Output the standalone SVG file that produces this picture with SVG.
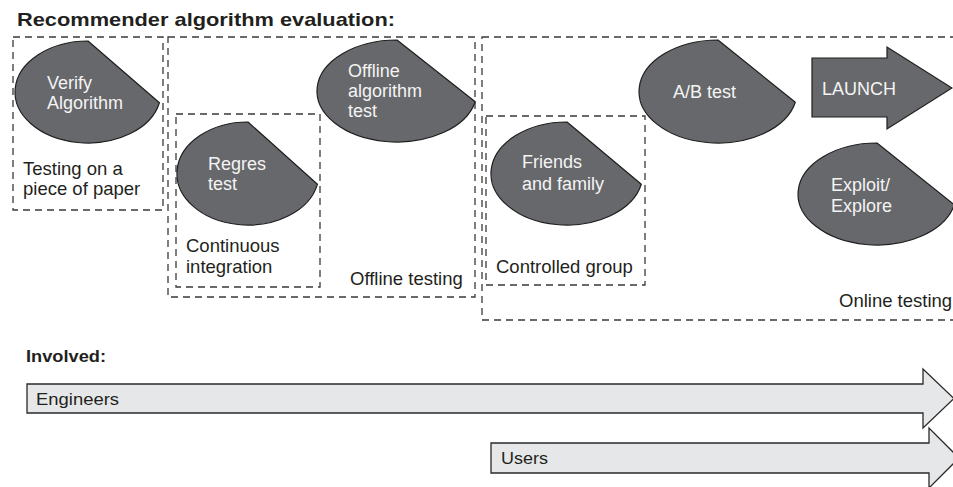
<svg xmlns="http://www.w3.org/2000/svg" width="953" height="487" viewBox="0 0 953 487">
<style>
text{font-family:"Liberation Sans",Arial,sans-serif;fill:#231f20}
.t{font-size:18.5px}
.w{font-size:18px;fill:#f4f4f4}
.b{font-weight:bold}
.box{fill:none;stroke:#3a3a3a;stroke-width:1.3;stroke-dasharray:7 5}
.blob{fill:#67686b;stroke:#1e1e1e;stroke-width:1.2}
.bar{fill:#e6e7e8;stroke:#2a2a2a;stroke-width:1.3}
</style>
<rect width="953" height="487" fill="#fff"/>
<text class="b" x="17" y="26" font-size="19" textLength="378" lengthAdjust="spacingAndGlyphs">Recommender algorithm evaluation:</text>

<g id="groups">
<g id="paper-box"><rect class="box" x="13" y="37" width="150" height="173"/>
<text class="t" x="23" y="175">Testing on a</text><text class="t" x="23" y="195">piece of paper</text></g>
<g id="offline-box"><rect class="box" x="168" y="37" width="307" height="260"/>
<text class="t" x="350" y="285">Offline testing</text></g>
<g id="ci-box"><rect class="box" x="176" y="114" width="144" height="173"/>
<text class="t" x="186" y="252">Continuous</text><text class="t" x="186" y="273">integration</text></g>
<g id="online-box"><rect class="box" x="482" y="37" width="480" height="283"/>
<text class="t" x="839" y="307">Online testing</text></g>
<g id="controlled-box"><rect class="box" x="486" y="116" width="159" height="169"/>
<text class="t" x="496" y="273">Controlled group</text></g>
</g>

<g id="connectors"></g>

<g id="verify"><path class="blob" d="M88,41 L159.4,102.7 A73 51 0 1 1 88,41 Z"/>
<text class="w" x="47" y="89">Verify</text><text class="w" x="47" y="109">Algorithm</text></g>
<g id="regres"><path class="blob" d="M248,122 L317.4,184.3 A71 51.5 0 1 1 248,122 Z"/>
<text class="w" x="208" y="170">Regres</text><text class="w" x="208" y="190">test</text></g>
<g id="offline-test"><path class="blob" d="M397,40 L475.2,101.7 A80 51 0 1 1 397,40 Z"/>
<text class="w" x="348" y="77">Offline</text><text class="w" x="348" y="97">algorithm</text><text class="w" x="348" y="117">test</text></g>
<g id="ab-test"><path class="blob" d="M718,40 L795.3,102.3 A79 51.5 0 1 1 718,40 Z"/>
<text class="w" x="673" y="98">A/B test</text></g>
<g id="friends"><path class="blob" d="M567,122 L641.3,184.3 A76 51.5 0 1 1 567,122 Z"/>
<text class="w" x="522" y="168">Friends</text><text class="w" x="522" y="190">and family</text></g>
<g id="exploit"><path class="blob" d="M877,143 L954.3,204.7 A79 51 0 1 1 877,143 Z"/>
<text class="w" x="831" y="191">Exploit/</text><text class="w" x="831" y="212">Explore</text></g>
<g id="launch"><polygon class="blob" points="812,58 887,58 887,47 952,88 887,129 887,117 812,117"/>
<text class="w" x="822" y="95">LAUNCH</text></g>

<text class="b" x="26" y="362" font-size="16" textLength="80" lengthAdjust="spacingAndGlyphs">Involved:</text>
<g id="engineers"><polygon class="bar" points="27,384 923,384 923,369 954,398.5 923,428 923,413 27,413"/>
<text x="36" y="405" font-size="17" textLength="83" lengthAdjust="spacingAndGlyphs">Engineers</text></g>
<g id="users"><polygon class="bar" points="491,443 929,443 929,428 959,458 929,488 929,473 491,473"/>
<text x="501" y="464" font-size="17" textLength="47" lengthAdjust="spacingAndGlyphs">Users</text></g>
</svg>
